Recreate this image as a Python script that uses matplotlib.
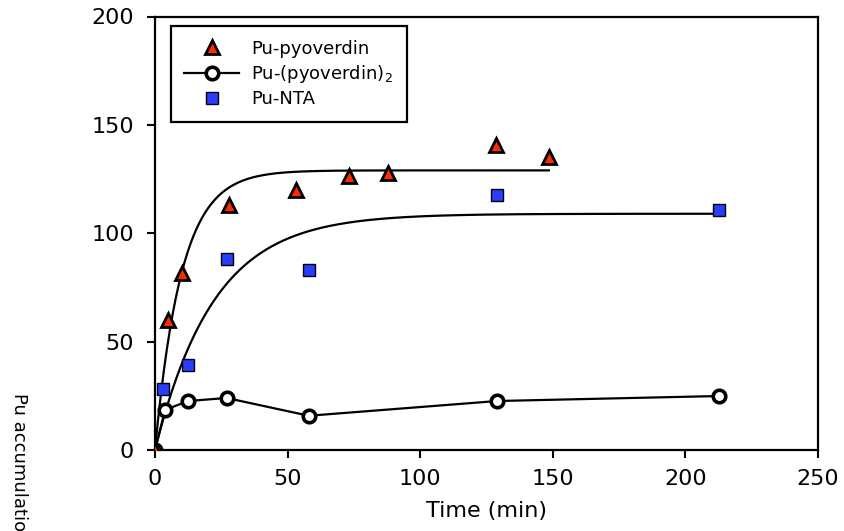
import numpy as np
import matplotlib
matplotlib.use("Agg")
import matplotlib.pyplot as plt

plt.rcParams["font.family"] = ["DejaVu Sans"]

# Pu-pyoverdin (triangles)
pyo_t = [0, 5, 10, 28, 53, 73, 88, 128.5, 148.5]
pyo_y = [0, 60, 81.5, 113, 120, 126.5, 128, 140.5, 135]

# Pu-(pyoverdin)2 (open circles joined by line)
pyo2_t = [0, 3.8, 12.5, 27, 58, 129, 212.5]
pyo2_y = [0, 18.5, 22.6, 24, 15.8, 22.6, 24.9]

# Pu-NTA (squares)
nta_t = [3, 12.5, 27, 58, 129, 212.5]
nta_y = [28, 39, 88, 83, 117.5, 110.5]

# first-order uptake fits: plateau, rate (1/min), end time
pyo_fit = (129.0, 0.10, 148.5)
nta_fit = (109.0, 0.045, 212.5)

fig = plt.figure(figsize=(8.44, 5.31), dpi=100)
ax = fig.add_axes([155 / 844, 1 - 450 / 531, (818 - 155) / 844, (450 - 16.5) / 531])

for plateau, k, t_end in (pyo_fit, nta_fit):
    tt = np.linspace(0, t_end, 400)
    ax.plot(tt, plateau * (1 - np.exp(-k * tt)), color="black", lw=1.6, zorder=2)

ax.plot(pyo2_t, pyo2_y, color="black", lw=1.6, marker="o", ms=9, mfc="white",
        mec="black", mew=2.6, label="Pu-(pyoverdin)$_2$", zorder=3)
ax.plot(nta_t, nta_y, ls="none", marker="s", ms=8, mfc="#2a3cff", mec="black",
        mew=1.0, label="Pu-NTA", zorder=4)
ax.plot(pyo_t, pyo_y, ls="none", marker="^", ms=10, mfc="#ff2a00", mec="black",
        mew=2.0, label="Pu-pyoverdin", zorder=5)

ax.set_xlim(0, 250)
ax.set_ylim(0, 200)
ax.set_xticks([0, 50, 100, 150, 200, 250])
ax.set_yticks([0, 50, 100, 150, 200])
ax.tick_params(direction="out", length=6, width=1.5, labelsize=16)
ax.tick_params(axis="x", top=False, pad=8)
ax.tick_params(axis="y", right=False, pad=9)
for sp in ax.spines.values():
    sp.set_linewidth(1.6)
ax.set_xlabel("Time (min)", fontsize=16, labelpad=8)

fig.text(0.012, 1 - 393 / 531, "Pu accumulation (pmol)", rotation=-90,
         ha="left", va="top", fontsize=13)

h, l = ax.get_legend_handles_labels()
order = [2, 0, 1]
leg = ax.legend([h[i] for i in order], [l[i] for i in order], loc="upper left",
                bbox_to_anchor=(0.024, 0.978), borderaxespad=0, fontsize=13,
                frameon=True, fancybox=False, edgecolor="black", framealpha=1,
                handlelength=3.0, handletextpad=0.7, borderpad=0.75,
                labelspacing=0.3)
leg.get_frame().set_linewidth(1.6)

fig.savefig("out.png", dpi=100)
